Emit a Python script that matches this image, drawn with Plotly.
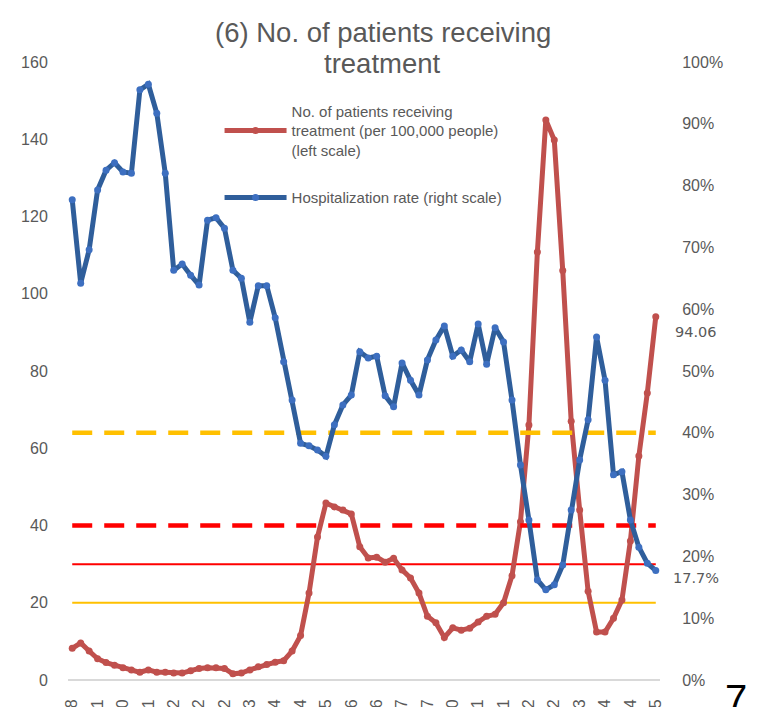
import plotly.graph_objects as go

# ---------------- data ----------------
tick_labels = ["2020/4/28", "2020/5/21", "2020/6/10", "2020/7/1", "2020/7/22", "2020/8/12",
               "2020/9/2", "2020/9/23", "2020/10/14", "2020/11/4", "2020/11/25", "2020/12/16",
               "2021/1/6", "2021/1/27", "2021/2/7", "2021/2/20", "2021/3/11", "2021/3/31",
               "2021/4/22", "2021/5/2", "2021/5/13", "2021/5/24", "2021/6/4", "2021/6/15"]

patients = [8.2, 9.6, 7.5, 5.5, 4.5, 3.8, 3.2, 2.6, 2.0, 2.6,
            2.0, 2.0, 1.8, 1.8, 2.4, 3.0, 3.2, 3.2, 3.0, 1.6,
            1.8, 2.6, 3.4, 4.0, 4.6, 5.0, 7.5, 11.5, 22.5, 37.0,
            45.8, 44.8, 44.0, 43.0, 34.5, 31.6, 31.8, 30.5, 31.5, 28.5,
            26.4, 22.5, 16.5, 14.8, 11.0, 13.5, 12.9, 13.4, 15.0, 16.5,
            17.0, 20.0, 27.0, 41.0, 66.0, 110.8, 145.0, 139.8, 106.0, 67.0,
            44.0, 23.0, 12.4, 12.4, 16.0, 20.7, 36.0, 58.0, 74.3, 94.06]

hosp_rate = [0.777, 0.642, 0.696, 0.793, 0.825, 0.837, 0.822, 0.820, 0.955, 0.964,
             0.917, 0.820, 0.663, 0.673, 0.655, 0.639, 0.744, 0.748, 0.731, 0.663,
             0.650, 0.579, 0.638, 0.638, 0.586, 0.515, 0.453, 0.383, 0.379, 0.372,
             0.362, 0.413, 0.445, 0.461, 0.531, 0.521, 0.524, 0.460, 0.442, 0.513,
             0.485, 0.461, 0.518, 0.550, 0.573, 0.524, 0.534, 0.515, 0.576, 0.511,
             0.570, 0.547, 0.453, 0.348, 0.259, 0.162, 0.146, 0.154, 0.186, 0.275,
             0.356, 0.421, 0.555, 0.485, 0.332, 0.337, 0.259, 0.215, 0.189, 0.177]

# stage thresholds
patients_stage3 = 20
patients_stage4 = 30
hosp_stage3 = 0.40
hosp_stage4 = 0.25

x = list(range(len(patients)))
tick_pos = x[::3]

GRAY = "#595959"
FONT = "Liberation Sans, Arial, sans-serif"
NUMFONT = "DejaVu Sans, sans-serif"
RED = "#C0504D"
BLUE = "#2F5E9B"
BLUE_M = "#3D6FC0"

fig = go.Figure()

# threshold lines
fig.add_trace(go.Scatter(x=[x[0], x[-1]], y=[patients_stage3] * 2, mode="lines",
                         line=dict(color="#FFC000", width=2), showlegend=False, hoverinfo="skip"))
fig.add_trace(go.Scatter(x=[x[0], x[-1]], y=[patients_stage4] * 2, mode="lines",
                         line=dict(color="#FF0000", width=2), showlegend=False, hoverinfo="skip"))
fig.add_trace(go.Scatter(x=[x[0], x[-1]], y=[hosp_stage3] * 2, mode="lines", yaxis="y2",
                         line=dict(color="#FFC000", width=4.5, dash="20px,12px"), showlegend=False,
                         hoverinfo="skip"))
fig.add_trace(go.Scatter(x=[x[0], x[-1]], y=[hosp_stage4] * 2, mode="lines", yaxis="y2",
                         line=dict(color="#FF0000", width=4.5, dash="20px,12px"), showlegend=False,
                         hoverinfo="skip"))

fig.add_trace(go.Scatter(x=x, y=patients, mode="lines+markers", legendgroup="patients",
                         name="No. of patients receiving<br>treatment (per 100,000 people)<br>(left scale)",
                         line=dict(color=RED, width=5), marker=dict(color=RED, size=7)))
fig.add_trace(go.Scatter(x=x, y=hosp_rate, mode="lines+markers", yaxis="y2", legendgroup="hosp",
                         name="Hospitalization rate (right scale)",
                         line=dict(color=BLUE, width=5), marker=dict(color=BLUE_M, size=7)))

fig.update_layout(
    width=759, height=707,
    margin=dict(l=68, r=99, t=62, b=27),
    paper_bgcolor="white", plot_bgcolor="white",
    font=dict(family=FONT, color=GRAY, size=16),
    xaxis=dict(range=[-0.5, len(x) - 0.5], tickmode="array", tickvals=tick_pos,
               ticktext=tick_labels, tickangle=-90, showgrid=False, zeroline=False,
               showline=False, automargin=False, ticks="outside", ticklen=12,
               tickcolor="rgba(0,0,0,0)", tickfont=dict(size=16, color=GRAY)),
    yaxis=dict(range=[0, 160], dtick=20, showgrid=False, zeroline=True, zerolinecolor="#D9D9D9",
               zerolinewidth=2, showline=False, ticks="outside", ticklen=16, tickcolor="rgba(0,0,0,0)",
               automargin=False, tickfont=dict(size=16, color=GRAY)),
    yaxis2=dict(range=[0, 1], dtick=0.1, tickformat=".0%", overlaying="y", side="right",
                showgrid=False, zeroline=False, showline=False, ticks="outside", ticklen=18,
                tickcolor="rgba(0,0,0,0)", automargin=False, tickfont=dict(size=16, color=GRAY)),
    legend=dict(x=0.256, y=0.947, xanchor="left", yanchor="top", bgcolor="rgba(0,0,0,0)",
                font=dict(family=FONT, size=15, color=GRAY),
                itemwidth=62, tracegroupgap=25, valign="middle"),
    showlegend=True,
)

fig.add_annotation(text="(6) No. of patients receiving", xref="paper", yref="paper",
                   x=0.532, y=(680 - 33) / 618, xanchor="center", yanchor="middle", showarrow=False,
                   font=dict(family=FONT, size=27.5, color=GRAY))
fig.add_annotation(text="treatment", xref="paper", yref="paper",
                   x=0.532, y=(680 - 63) / 618, xanchor="center", yanchor="middle", showarrow=False,
                   font=dict(family=FONT, size=27.5, color=GRAY))
fig.add_annotation(text=f"{patients[-1]:.2f}", x=x[-1], y=patients[-1], xref="x", yref="y",
                   xanchor="left", yanchor="middle", xshift=17, yshift=-15, showarrow=False,
                   font=dict(family=NUMFONT, size=14.5, color=GRAY))
fig.add_annotation(text=f"{hosp_rate[-1]*100:.1f}%", x=x[-1], y=hosp_rate[-1], xref="x", yref="y2",
                   xanchor="left", yanchor="middle", xshift=15, yshift=-7, showarrow=False,
                   font=dict(family=NUMFONT, size=14.5, color=GRAY))
fig.add_annotation(text="7", xref="paper", yref="paper", x=1.128, y=-0.03, xanchor="center",
                   yanchor="middle", showarrow=False,
                   font=dict(family=FONT, size=40, color="black"))

fig.write_html("out.html", config={"displayModeBar": False},
               post_script="document.body.style.margin='0px';")
